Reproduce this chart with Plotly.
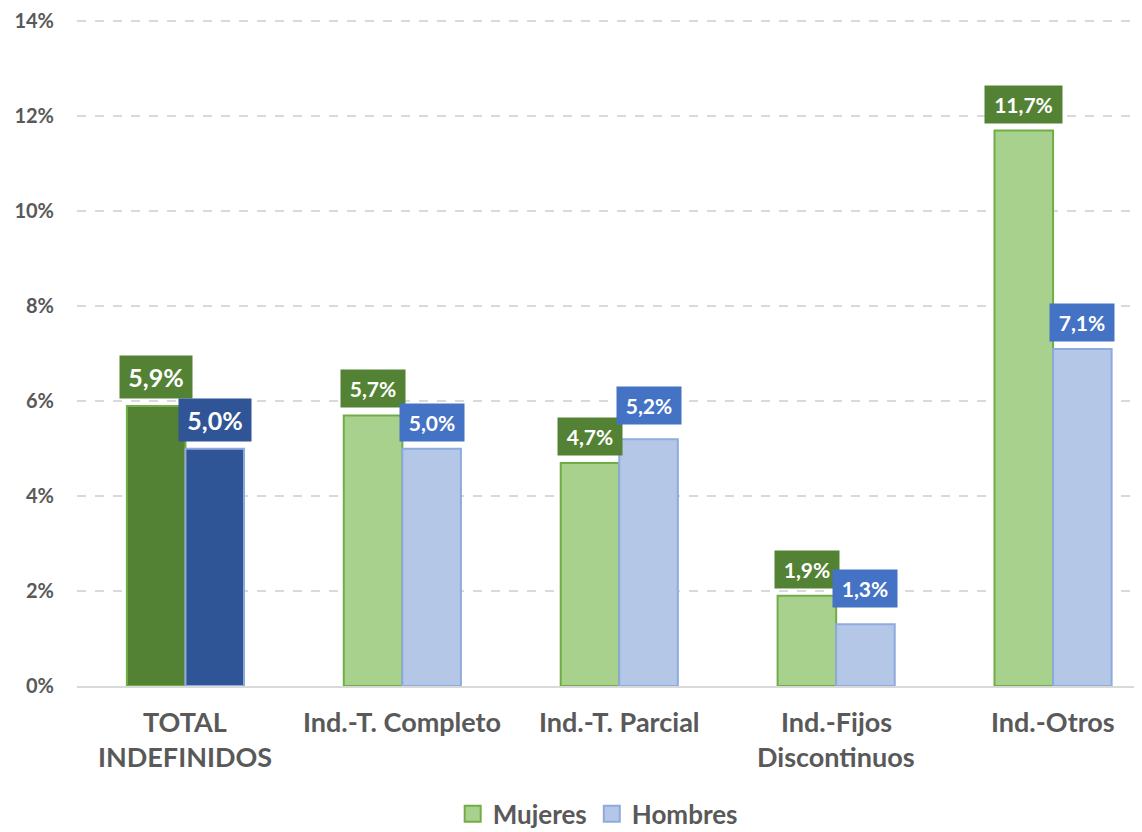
import plotly.graph_objects as go

categories = ["TOTAL<br>INDEFINIDOS", "Ind.-T. Completo", "Ind.-T. Parcial",
              "Ind.-Fijos<br>Discontinuos", "Ind.-Otros"]
mujeres = [5.9, 5.7, 4.7, 1.9, 11.7]
hombres = [5.0, 5.0, 5.2, 1.3, 7.1]
mujeres_labels = ["5,9%", "5,7%", "4,7%", "1,9%", "11,7%"]
hombres_labels = ["5,0%", "5,0%", "5,2%", "1,3%", "7,1%"]
y_ticks = [0, 2, 4, 6, 8, 10, 12, 14]
y_ticktext = ["0%", "2%", "4%", "6%", "8%", "10%", "12%", "14%"]

FONT = "Lato"
GRAY = "#595959"

M_LIGHT, M_DARK, M_EDGE = "#A9D18E", "#548235", "#70AD47"
H_LIGHT, H_DARK, H_EDGE = "#B4C7E7", "#2F5597", "#8FAADC"
H_BOX = "#4472C4"

x_idx = list(range(len(categories)))

fig = go.Figure()
# total group (dark colours) and the rest (light colours) share offset groups
fig.add_trace(go.Bar(x=x_idx[:1], y=mujeres[:1], offsetgroup="m", showlegend=False,
                     marker=dict(color=M_DARK, line=dict(color=M_EDGE, width=2))))
fig.add_trace(go.Bar(x=x_idx[1:], y=mujeres[1:], offsetgroup="m", showlegend=False,
                     marker=dict(color=M_LIGHT, line=dict(color=M_EDGE, width=2))))
fig.add_trace(go.Bar(x=x_idx[:1], y=hombres[:1], offsetgroup="h", showlegend=False,
                     marker=dict(color=H_DARK, line=dict(color=H_EDGE, width=2))))
fig.add_trace(go.Bar(x=x_idx[1:], y=hombres[1:], offsetgroup="h", showlegend=False,
                     marker=dict(color=H_LIGHT, line=dict(color=H_EDGE, width=2))))
# legend entries
fig.add_trace(go.Scatter(x=[None], y=[None], mode="markers", name="Mujeres",
                         marker=dict(symbol="square", size=18, color=M_LIGHT,
                                     line=dict(color=M_EDGE, width=2))))
fig.add_trace(go.Scatter(x=[None], y=[None], mode="markers", name="Hombres",
                         marker=dict(symbol="square", size=18, color=H_LIGHT,
                                     line=dict(color=H_EDGE, width=2))))

off = 0.135
m_shift = [7, 7, 7, 7, 7]
h_shift = [7, 7, 14, 16, 7]
annotations = []
for i in x_idx:
    size = 25 if i == 0 else 21
    cw = 15 if i == 0 else 13
    annotations.append(dict(x=i - off, y=mujeres[i], xref="x", yref="y",
                            text="<b>%s</b>" % mujeres_labels[i], showarrow=False,
                            yanchor="bottom", yshift=m_shift[i], bgcolor=M_DARK,
                            borderpad=6, width=cw * len(mujeres_labels[i]),
                            font=dict(family=FONT, size=size, color="white")))
    annotations.append(dict(x=i + off, y=hombres[i], xref="x", yref="y",
                            text="<b>%s</b>" % hombres_labels[i], showarrow=False,
                            yanchor="bottom", yshift=h_shift[i],
                            bgcolor=H_DARK if i == 0 else H_BOX,
                            borderpad=6, width=cw * len(hombres_labels[i]),
                            font=dict(family=FONT, size=size, color="white")))
    for j, line in enumerate(categories[i].split("<br>")):
        annotations.append(dict(x=i, y=0, xref="x", yref="paper",
                                text="<b>%s</b>" % line, showarrow=False,
                                yanchor="middle", yshift=-35 - 35 * j,
                                font=dict(family=FONT, size=27, color=GRAY)))

fig.update_layout(
    width=1134, height=824,
    margin=dict(l=69, r=0, t=12, b=146),
    paper_bgcolor="white", plot_bgcolor="white",
    barmode="group", bargap=0.46, bargroupgap=0,
    font=dict(family=FONT, color=GRAY),
    showlegend=True,
    legend=dict(orientation="h", xref="container", yref="container",
                x=0.52, xanchor="center", y=0.022, yanchor="middle",
                font=dict(family=FONT, size=26, color=GRAY, weight="bold"),
                itemwidth=30, traceorder="normal", tracegroupgap=0),
    annotations=annotations,
)
fig.update_xaxes(range=[-0.5, 4.41], tickvals=x_idx, ticktext=[""] * 5,
                 showline=True, linecolor="#D9D9D9", linewidth=2,
                 showgrid=False, zeroline=False, ticks="", automargin=False)
fig.update_yaxes(range=[0, 14.03], tickvals=y_ticks, ticktext=y_ticktext,
                 showgrid=True, gridcolor="#D9D9D9", gridwidth=2, griddash="dash",
                 zeroline=False, showline=False, ticks="", automargin=False,
                 ticklabelstandoff=22,
                 tickfont=dict(family=FONT, size=20, color=GRAY, weight="bold"))

fig.write_html("out.html")
